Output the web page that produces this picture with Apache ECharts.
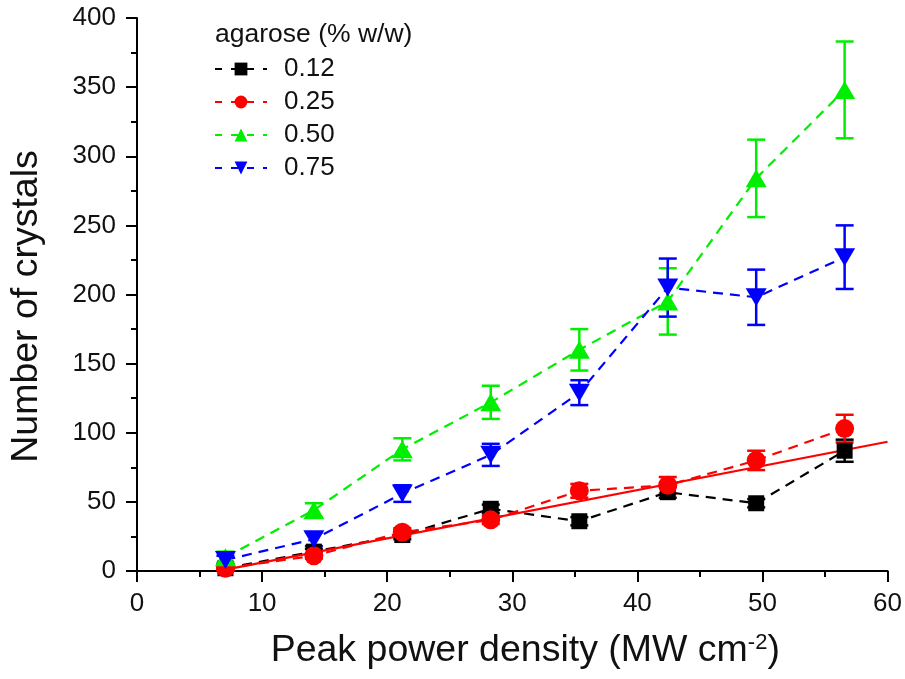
<!DOCTYPE html>
<html>
<head>
<meta charset="utf-8">
<script src="https://cdn.jsdelivr.net/npm/echarts@6/dist/echarts.min.js"></script>
<style>
html,body{margin:0;padding:0;background:#fff;}
#chart{width:905px;height:679px;}
</style>
</head>
<body>
<div id="chart"></div>
<script>
// ---- data ----
const xValues = [7.07, 14.14, 21.21, 28.28, 35.36, 42.43, 49.50, 56.57];
const seriesNames = ['0.12', '0.25', '0.50', '0.75'];
const black = [2, 14, 26, 45, 36, 57, 49, 87];
const blackErr = [1, 2, 3, 3, 3, 4, 3, 8];
const red = [2, 11, 28, 37, 58, 62, 80, 103];
const redErr = [1, 2, 3, 3, 5, 6, 7, 10];
const green = [10, 44, 88, 122, 160, 195, 284, 348];
const greenErr = [4, 5, 8, 12, 15, 24, 28, 35];
const blue = [8, 23, 56, 84, 129, 205, 198, 227];
const blueErr = [3, 5, 6, 8, 9, 21, 20, 23];
const fitX = [7.07, 60];
const fitY = [1, 93.5];
const xTicks = [0, 10, 20, 30, 40, 50, 60];
const yTicks = [0, 50, 100, 150, 200, 250, 300, 350, 400];

const FONT = 'Liberation Sans, Arial, sans-serif';
const colors = ['#000000', '#ff0000', '#00ee00', '#0000ff'];

function pts(ys) { return xValues.map((x, i) => [x, ys[i]]); }
function errPts(ys, es) { return xValues.map((x, i) => [x, ys[i] - es[i], ys[i] + es[i]]); }

function errSeries(ys, es, color) {
  return {
    type: 'custom',
    data: errPts(ys, es),
    silent: true,
    renderItem: function (params, api) {
      const x = api.value(0);
      const lo = api.coord([x, api.value(1)]);
      const hi = api.coord([x, api.value(2)]);
      const cw = 9;
      const st = { stroke: color, lineWidth: 2.5 };
      return {
        type: 'group',
        children: [
          { type: 'line', shape: { x1: lo[0], y1: lo[1], x2: hi[0], y2: hi[1] }, style: st },
          { type: 'line', shape: { x1: lo[0] - cw, y1: lo[1], x2: lo[0] + cw, y2: lo[1] }, style: st },
          { type: 'line', shape: { x1: hi[0] - cw, y1: hi[1], x2: hi[0] + cw, y2: hi[1] }, style: st }
        ]
      };
    }
  };
}

function lineSeries(name, ys, color, symbol, size, rotate) {
  return {
    name: name,
    type: 'line',
    data: pts(ys),
    symbol: symbol,
    symbolSize: size,
    symbolRotate: rotate || 0,
    showAllSymbol: true,
    lineStyle: { color: color, width: 2.2, type: [10, 7] },
    itemStyle: { color: color, opacity: 1 },
    emphasis: { disabled: true }
  };
}

const chart = echarts.init(document.getElementById('chart'), null, { renderer: 'canvas' });
const axisCommon = {
  axisLine: { show: true, onZero: false, lineStyle: { color: '#000', width: 2 } },
  axisTick: { show: true, inside: false, length: 11, lineStyle: { color: '#000', width: 2 } },
  minorTick: { show: true, splitNumber: 2, length: 6, lineStyle: { color: '#000', width: 2 } },
  splitLine: { show: false },
  axisLabel: { color: '#111', fontSize: 26, fontFamily: FONT }
};

chart.setOption({
  animation: false,
  backgroundColor: '#fff',
  title: {
    text: 'agarose (% w/w)',
    left: 215, top: 21, padding: 0,
    textStyle: { fontSize: 26.5, fontWeight: 'normal', color: '#111', fontFamily: FONT }
  },
  legend: {
    data: seriesNames,
    orient: 'vertical',
    left: 214, top: 56,
    padding: 0,
    itemWidth: 52, itemHeight: 16, itemGap: 7,
    lineStyle: { type: [7, 9] },
    textStyle: { fontSize: 26, color: '#111', fontFamily: FONT, lineHeight: 26, padding: [0, 0, 0, 12] },
    selectedMode: false
  },
  grid: { left: 135, right: 16, top: 18, bottom: 108, containLabel: false },
  xAxis: Object.assign({}, axisCommon, {
    type: 'value', min: xTicks[0], max: xTicks[xTicks.length - 1], interval: 10,
    name: '{a|Peak power density (MW cm}{s|-2}{a|)}',
    nameLocation: 'middle', nameGap: 61,
    nameTextStyle: {
      padding: [0, 0, 0, 26],
      rich: {
        a: { fontSize: 37.5, color: '#111', fontFamily: FONT, lineHeight: 38 },
        s: { fontSize: 22, color: '#111', fontFamily: FONT, lineHeight: 38, padding: [0, 0, 17, 0] }
      }
    },
    axisLabel: Object.assign({}, axisCommon.axisLabel, { margin: 20 })
  }),
  yAxis: Object.assign({}, axisCommon, {
    type: 'value', min: yTicks[0], max: yTicks[yTicks.length - 1], interval: 50,
    name: 'Number of crystals',
    nameLocation: 'middle', nameGap: 91, nameRotate: 90,
    nameTextStyle: { fontSize: 37.5, color: '#111', fontFamily: FONT, padding: [0, 24, 0, 0] },
    axisLabel: Object.assign({}, axisCommon.axisLabel, { margin: 21 })
  }),
  series: [
    errSeries(black, blackErr, colors[0]),
    lineSeries(seriesNames[0], black, colors[0], 'rect', 16),
    errSeries(red, redErr, colors[1]),
    lineSeries(seriesNames[1], red, colors[1], 'circle', 19),
    {
      type: 'line', data: fitX.map((x, i) => [x, fitY[i]]), symbol: 'none',
      lineStyle: { color: colors[1], width: 2.2, type: 'solid' }, silent: true
    },
    errSeries(green, greenErr, colors[2]),
    lineSeries(seriesNames[2], green, colors[2], 'triangle', [21, 18]),
    errSeries(blue, blueErr, colors[3]),
    lineSeries(seriesNames[3], blue, colors[3], 'triangle', [21, 18], 180)
  ]
});
</script>
</body>
</html>
